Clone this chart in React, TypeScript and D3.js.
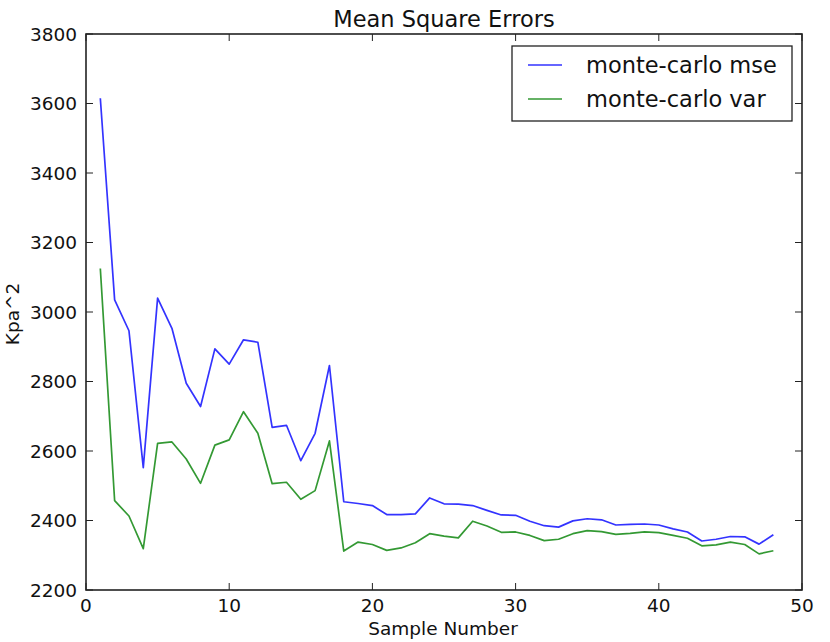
import React from "react";
import * as d3 from "d3";

// sample numbers 1..48
const samples = [
  1, 2, 3, 4, 5, 6, 7, 8, 9, 10, 11, 12, 13, 14, 15, 16, 17, 18, 19, 20, 21, 22, 23, 24,
  25, 26, 27, 28, 29, 30, 31, 32, 33, 34, 35, 36, 37, 38, 39, 40, 41, 42, 43, 44, 45, 46, 47, 48,
];

const mseValues = [
  3615, 3035, 2946, 2552, 3040, 2953, 2795, 2728, 2894, 2850, 2920, 2913,
  2668, 2674, 2572, 2651, 2846, 2454, 2449, 2443, 2417, 2417, 2419, 2465,
  2448, 2447, 2443, 2429, 2416, 2415, 2398, 2385, 2381, 2399, 2405, 2402,
  2387, 2389, 2390, 2387, 2376, 2367, 2341, 2346, 2354, 2353, 2332, 2359,
];

const varValues = [
  3125, 2457, 2413, 2319, 2622, 2626, 2577, 2507, 2617, 2632, 2713, 2651,
  2506, 2510, 2461, 2486, 2629, 2312, 2338, 2331, 2314, 2321, 2336, 2362,
  2355, 2350, 2398, 2384, 2366, 2367, 2357, 2342, 2346, 2362, 2371, 2368,
  2360, 2363, 2367, 2365, 2357, 2349, 2327, 2330, 2338, 2331, 2304, 2313,
];

const seriesNames = ["monte-carlo mse", "monte-carlo var"];
const seriesColors = ["#0000ff", "#008000"];

const xTicks = [0, 10, 20, 30, 40, 50];
const yTicks = [2200, 2400, 2600, 2800, 3000, 3200, 3400, 3600, 3800];

const App = () => {
  const width = 830;
  const height = 642;
  const left = 86;
  const right = 802;
  const top = 34;
  const bottom = 590;
  const font = "DejaVu Sans, sans-serif";
  const tickFont = 18.5;

  const x = d3.scaleLinear().domain([0, 50]).range([left, right]);
  const y = d3.scaleLinear().domain([2200, 3800]).range([bottom, top]);

  const line = d3
    .line<number>()
    .x((_, i) => x(samples[i]))
    .y((d) => y(d));

  const series = [mseValues, varValues];
  const tickLen = 7;

  return (
    <svg
      width={width}
      height={height}
      style={{ position: "absolute", left: 0, top: 0, background: "#fff" }}
      fontFamily={font}
    >
      <rect x={0} y={0} width={width} height={height} fill="#fff" />
      <text x={(left + right) / 2} y={27} textAnchor="middle" fontSize={22.5} fill="#111">
        Mean Square Errors
      </text>

      <defs>
        <clipPath id="plotclip">
          <rect x={left} y={top} width={right - left} height={bottom - top} />
        </clipPath>
      </defs>
      <g clipPath="url(#plotclip)">
        {series.map((s, k) => (
          <path
            key={seriesNames[k]}
            d={line(s) ?? ""}
            fill="none"
            stroke={seriesColors[k]}
            strokeWidth={1.7}
            strokeLinejoin="round"
            opacity={0.8}
          />
        ))}
      </g>

      {/* ticks */}
      <g stroke="#222" strokeWidth={1}>
        {xTicks.map((t) => (
          <g key={`xt${t}`}>
            <line x1={x(t)} x2={x(t)} y1={bottom} y2={bottom - tickLen} />
            <line x1={x(t)} x2={x(t)} y1={top} y2={top + tickLen} />
          </g>
        ))}
        {yTicks.map((t) => (
          <g key={`yt${t}`}>
            <line x1={left} x2={left + tickLen} y1={y(t)} y2={y(t)} />
            <line x1={right} x2={right - tickLen} y1={y(t)} y2={y(t)} />
          </g>
        ))}
      </g>
      <rect
        x={left}
        y={top}
        width={right - left}
        height={bottom - top}
        fill="none"
        stroke="#222"
        strokeWidth={1.6}
      />

      {/* tick labels */}
      <g fontSize={tickFont} fill="#111">
        {xTicks.map((t) => (
          <text key={`xl${t}`} x={x(t)} y={bottom + 22} textAnchor="middle">
            {t}
          </text>
        ))}
        {yTicks.map((t) => (
          <text key={`yl${t}`} x={left - 9} y={y(t) + 6.5} textAnchor="end">
            {t}
          </text>
        ))}
      </g>

      <text x={(left + right) / 2 - 1} y={635} textAnchor="middle" fontSize={tickFont} fill="#111">
        Sample Number
      </text>
      <text
        transform={`translate(19,${(top + bottom) / 2 + 2}) rotate(-90)`}
        textAnchor="middle"
        fontSize={tickFont}
        fill="#111"
      >
        Kpa^2
      </text>

      {/* legend */}
      <g>
        <rect x={512} y={46} width={280} height={75} fill="#fff" stroke="#222" strokeWidth={1.3} />
        {seriesNames.map((name, k) => (
          <g key={name} transform={`translate(0,${65 + k * 34})`}>
            <line x1={528} x2={562} y1={0} y2={0} stroke={seriesColors[k]} strokeWidth={1.7} opacity={0.8} />
            <text x={586} y={8} fontSize={22.5} fill="#111">
              {name}
            </text>
          </g>
        ))}
      </g>
    </svg>
  );
};

export default App;
